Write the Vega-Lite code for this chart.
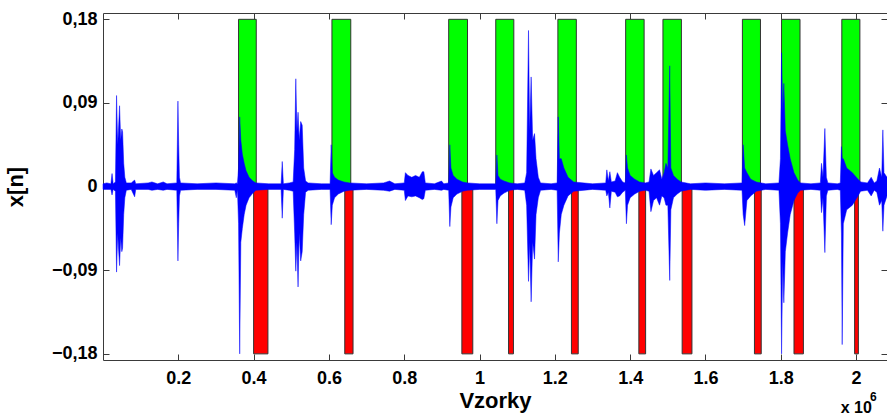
{
  "$schema": "https://vega.github.io/schema/vega-lite/v6.json",
  "width": 784,
  "height": 347,
  "autosize": {"type": "none"},
  "padding": {"left": 103, "top": 13, "right": 0, "bottom": 55},
  "background": "white",
  "config": {
    "view": {"stroke": "#3a3a3a", "strokeWidth": 1},
    "font": "Liberation Sans",
    "axis": {
      "labelFont": "Liberation Sans", "labelFontWeight": "bold", "labelFontSize": 18, "labelColor": "black",
      "titleFont": "Liberation Sans", "titleFontWeight": "bold", "titleFontSize": 22, "titleColor": "black",
      "domain": false, "grid": false, "tickColor": "#3a3a3a", "tickSize": -6
    }
  },
  "datasets": {
    "segments": [
      {"start": 360000, "end": 407000, "val": 0.18, "marker": "start"},
      {"start": 400000, "end": 438000, "val": -0.18, "marker": "end"},
      {"start": 608000, "end": 658000, "val": 0.18, "marker": "start"},
      {"start": 642000, "end": 664000, "val": -0.18, "marker": "end"},
      {"start": 918000, "end": 968000, "val": 0.18, "marker": "start"},
      {"start": 953000, "end": 982000, "val": -0.18, "marker": "end"},
      {"start": 1043000, "end": 1091000, "val": 0.18, "marker": "start"},
      {"start": 1077000, "end": 1090000, "val": -0.18, "marker": "end"},
      {"start": 1208000, "end": 1257000, "val": 0.18, "marker": "start"},
      {"start": 1244000, "end": 1262000, "val": -0.18, "marker": "end"},
      {"start": 1388000, "end": 1437000, "val": 0.18, "marker": "start"},
      {"start": 1423000, "end": 1441000, "val": -0.18, "marker": "end"},
      {"start": 1487000, "end": 1536000, "val": 0.18, "marker": "start"},
      {"start": 1538000, "end": 1564000, "val": -0.18, "marker": "end"},
      {"start": 1698000, "end": 1746000, "val": 0.18, "marker": "start"},
      {"start": 1730000, "end": 1748000, "val": -0.18, "marker": "end"},
      {"start": 1802000, "end": 1851000, "val": 0.18, "marker": "start"},
      {"start": 1835000, "end": 1860000, "val": -0.18, "marker": "end"},
      {"start": 1962000, "end": 2010000, "val": 0.18, "marker": "start"},
      {"start": 1996000, "end": 2006000, "val": -0.18, "marker": "end"}
    ],
    "signal": [
      {"x": 0, "hi": 0.003, "lo": -0.003},
      {"x": 10000, "hi": 0.004, "lo": -0.003},
      {"x": 21000, "hi": 0.003, "lo": -0.003},
      {"x": 24000, "hi": 0.014, "lo": -0.009},
      {"x": 27000, "hi": 0.003, "lo": -0.003},
      {"x": 33000, "hi": 0.005, "lo": -0.005},
      {"x": 36000, "hi": 0.098, "lo": -0.092},
      {"x": 39000, "hi": 0.045, "lo": -0.05},
      {"x": 41000, "hi": 0.06, "lo": -0.065},
      {"x": 44000, "hi": 0.087, "lo": -0.085},
      {"x": 47000, "hi": 0.05, "lo": -0.055},
      {"x": 50000, "hi": 0.062, "lo": -0.07},
      {"x": 52000, "hi": 0.059, "lo": -0.066},
      {"x": 55000, "hi": 0.025, "lo": -0.03},
      {"x": 58000, "hi": 0.01, "lo": -0.012},
      {"x": 62000, "hi": 0.004, "lo": -0.004},
      {"x": 75000, "hi": 0.004, "lo": -0.003},
      {"x": 84000, "hi": 0.007, "lo": -0.011},
      {"x": 87000, "hi": 0.003, "lo": -0.003},
      {"x": 120000, "hi": 0.004, "lo": -0.003},
      {"x": 130000, "hi": 0.005, "lo": -0.004},
      {"x": 145000, "hi": 0.003, "lo": -0.003},
      {"x": 160000, "hi": 0.005, "lo": -0.004},
      {"x": 170000, "hi": 0.003, "lo": -0.003},
      {"x": 196000, "hi": 0.004, "lo": -0.004},
      {"x": 199000, "hi": 0.092, "lo": -0.08},
      {"x": 201000, "hi": 0.045, "lo": -0.04},
      {"x": 203000, "hi": 0.01, "lo": -0.01},
      {"x": 206000, "hi": 0.004, "lo": -0.004},
      {"x": 250000, "hi": 0.003, "lo": -0.003},
      {"x": 300000, "hi": 0.004, "lo": -0.003},
      {"x": 350000, "hi": 0.003, "lo": -0.004},
      {"x": 354000, "hi": 0.004, "lo": -0.012},
      {"x": 357000, "hi": 0.003, "lo": -0.003},
      {"x": 360000, "hi": 0.02, "lo": -0.04},
      {"x": 363000, "hi": 0.075, "lo": -0.18},
      {"x": 366000, "hi": 0.05, "lo": -0.06},
      {"x": 370000, "hi": 0.035, "lo": -0.045},
      {"x": 375000, "hi": 0.025, "lo": -0.03},
      {"x": 380000, "hi": 0.017, "lo": -0.02},
      {"x": 388000, "hi": 0.01, "lo": -0.012},
      {"x": 398000, "hi": 0.006, "lo": -0.007},
      {"x": 406000, "hi": 0.004, "lo": -0.004},
      {"x": 440000, "hi": 0.003, "lo": -0.003},
      {"x": 473000, "hi": 0.003, "lo": -0.003},
      {"x": 476000, "hi": 0.027, "lo": -0.034},
      {"x": 479000, "hi": 0.003, "lo": -0.003},
      {"x": 495000, "hi": 0.004, "lo": -0.004},
      {"x": 505000, "hi": 0.005, "lo": -0.005},
      {"x": 509000, "hi": 0.04, "lo": -0.05},
      {"x": 512000, "hi": 0.116, "lo": -0.091},
      {"x": 515000, "hi": 0.06, "lo": -0.06},
      {"x": 518000, "hi": 0.08, "lo": -0.108},
      {"x": 521000, "hi": 0.05, "lo": -0.05},
      {"x": 525000, "hi": 0.07, "lo": -0.08},
      {"x": 529000, "hi": 0.066, "lo": -0.07},
      {"x": 533000, "hi": 0.02, "lo": -0.03},
      {"x": 538000, "hi": 0.006, "lo": -0.006},
      {"x": 545000, "hi": 0.004, "lo": -0.004},
      {"x": 580000, "hi": 0.003, "lo": -0.003},
      {"x": 603000, "hi": 0.003, "lo": -0.003},
      {"x": 606000, "hi": 0.045, "lo": -0.041},
      {"x": 609000, "hi": 0.015, "lo": -0.02},
      {"x": 615000, "hi": 0.01, "lo": -0.012},
      {"x": 625000, "hi": 0.007, "lo": -0.008},
      {"x": 640000, "hi": 0.005, "lo": -0.005},
      {"x": 655000, "hi": 0.004, "lo": -0.004},
      {"x": 700000, "hi": 0.003, "lo": -0.003},
      {"x": 745000, "hi": 0.004, "lo": -0.004},
      {"x": 761000, "hi": 0.006, "lo": -0.005},
      {"x": 775000, "hi": 0.003, "lo": -0.003},
      {"x": 800000, "hi": 0.004, "lo": -0.004},
      {"x": 803000, "hi": 0.015, "lo": -0.015},
      {"x": 810000, "hi": 0.012, "lo": -0.01},
      {"x": 820000, "hi": 0.01, "lo": -0.011},
      {"x": 830000, "hi": 0.012, "lo": -0.01},
      {"x": 840000, "hi": 0.01, "lo": -0.012},
      {"x": 848000, "hi": 0.016, "lo": -0.014},
      {"x": 852000, "hi": 0.016, "lo": -0.013},
      {"x": 856000, "hi": 0.004, "lo": -0.004},
      {"x": 880000, "hi": 0.003, "lo": -0.003},
      {"x": 899000, "hi": 0.006, "lo": -0.004},
      {"x": 905000, "hi": 0.003, "lo": -0.003},
      {"x": 918000, "hi": 0.004, "lo": -0.004},
      {"x": 921000, "hi": 0.045, "lo": -0.043},
      {"x": 924000, "hi": 0.02, "lo": -0.022},
      {"x": 930000, "hi": 0.012, "lo": -0.012},
      {"x": 940000, "hi": 0.008, "lo": -0.008},
      {"x": 955000, "hi": 0.005, "lo": -0.005},
      {"x": 968000, "hi": 0.004, "lo": -0.004},
      {"x": 1000000, "hi": 0.003, "lo": -0.003},
      {"x": 1043000, "hi": 0.003, "lo": -0.003},
      {"x": 1046000, "hi": 0.034, "lo": -0.04},
      {"x": 1049000, "hi": 0.012, "lo": -0.015},
      {"x": 1055000, "hi": 0.008, "lo": -0.01},
      {"x": 1065000, "hi": 0.006, "lo": -0.007},
      {"x": 1080000, "hi": 0.004, "lo": -0.004},
      {"x": 1100000, "hi": 0.003, "lo": -0.003},
      {"x": 1120000, "hi": 0.004, "lo": -0.004},
      {"x": 1125000, "hi": 0.015, "lo": -0.02},
      {"x": 1130000, "hi": 0.168, "lo": -0.102},
      {"x": 1133000, "hi": 0.06, "lo": -0.06},
      {"x": 1137000, "hi": 0.118, "lo": -0.124},
      {"x": 1141000, "hi": 0.05, "lo": -0.06},
      {"x": 1146000, "hi": 0.057, "lo": -0.078},
      {"x": 1150000, "hi": 0.03, "lo": -0.03},
      {"x": 1156000, "hi": 0.01, "lo": -0.012},
      {"x": 1162000, "hi": 0.004, "lo": -0.004},
      {"x": 1190000, "hi": 0.003, "lo": -0.003},
      {"x": 1206000, "hi": 0.004, "lo": -0.004},
      {"x": 1209000, "hi": 0.075, "lo": -0.081},
      {"x": 1212000, "hi": 0.03, "lo": -0.05},
      {"x": 1217000, "hi": 0.03, "lo": -0.03},
      {"x": 1224000, "hi": 0.02, "lo": -0.02},
      {"x": 1235000, "hi": 0.01, "lo": -0.01},
      {"x": 1250000, "hi": 0.005, "lo": -0.005},
      {"x": 1300000, "hi": 0.003, "lo": -0.003},
      {"x": 1335000, "hi": 0.004, "lo": -0.004},
      {"x": 1338000, "hi": 0.018, "lo": -0.01},
      {"x": 1342000, "hi": 0.006, "lo": -0.006},
      {"x": 1346000, "hi": 0.016, "lo": -0.023},
      {"x": 1350000, "hi": 0.005, "lo": -0.005},
      {"x": 1360000, "hi": 0.006, "lo": -0.006},
      {"x": 1366000, "hi": 0.015, "lo": -0.011},
      {"x": 1372000, "hi": 0.01, "lo": -0.01},
      {"x": 1380000, "hi": 0.005, "lo": -0.006},
      {"x": 1387000, "hi": 0.004, "lo": -0.004},
      {"x": 1390000, "hi": 0.034, "lo": -0.04},
      {"x": 1393000, "hi": 0.02, "lo": -0.02},
      {"x": 1400000, "hi": 0.012, "lo": -0.012},
      {"x": 1412000, "hi": 0.008, "lo": -0.008},
      {"x": 1425000, "hi": 0.005, "lo": -0.005},
      {"x": 1440000, "hi": 0.004, "lo": -0.004},
      {"x": 1450000, "hi": 0.005, "lo": -0.005},
      {"x": 1455000, "hi": 0.019, "lo": -0.027},
      {"x": 1462000, "hi": 0.012, "lo": -0.015},
      {"x": 1470000, "hi": 0.015, "lo": -0.012},
      {"x": 1478000, "hi": 0.018, "lo": -0.02},
      {"x": 1484000, "hi": 0.008, "lo": -0.01},
      {"x": 1490000, "hi": 0.015, "lo": -0.012},
      {"x": 1495000, "hi": 0.025, "lo": -0.02},
      {"x": 1500000, "hi": 0.02, "lo": -0.02},
      {"x": 1505000, "hi": 0.13, "lo": -0.101},
      {"x": 1508000, "hi": 0.02, "lo": -0.025},
      {"x": 1515000, "hi": 0.012, "lo": -0.012},
      {"x": 1525000, "hi": 0.008, "lo": -0.008},
      {"x": 1535000, "hi": 0.005, "lo": -0.005},
      {"x": 1560000, "hi": 0.003, "lo": -0.003},
      {"x": 1600000, "hi": 0.004, "lo": -0.004},
      {"x": 1650000, "hi": 0.003, "lo": -0.003},
      {"x": 1697000, "hi": 0.004, "lo": -0.004},
      {"x": 1700000, "hi": 0.045, "lo": -0.03},
      {"x": 1704000, "hi": 0.02, "lo": -0.042},
      {"x": 1710000, "hi": 0.015, "lo": -0.015},
      {"x": 1720000, "hi": 0.008, "lo": -0.01},
      {"x": 1735000, "hi": 0.005, "lo": -0.005},
      {"x": 1760000, "hi": 0.003, "lo": -0.003},
      {"x": 1795000, "hi": 0.004, "lo": -0.004},
      {"x": 1799000, "hi": 0.03, "lo": -0.04},
      {"x": 1802000, "hi": 0.144, "lo": -0.18},
      {"x": 1805000, "hi": 0.08, "lo": -0.08},
      {"x": 1808000, "hi": 0.111, "lo": -0.125},
      {"x": 1812000, "hi": 0.06, "lo": -0.07},
      {"x": 1818000, "hi": 0.045, "lo": -0.05},
      {"x": 1825000, "hi": 0.03, "lo": -0.03},
      {"x": 1835000, "hi": 0.015, "lo": -0.015},
      {"x": 1845000, "hi": 0.007, "lo": -0.007},
      {"x": 1852000, "hi": 0.004, "lo": -0.004},
      {"x": 1880000, "hi": 0.003, "lo": -0.003},
      {"x": 1905000, "hi": 0.004, "lo": -0.004},
      {"x": 1908000, "hi": 0.025, "lo": -0.028},
      {"x": 1912000, "hi": 0.01, "lo": -0.012},
      {"x": 1917000, "hi": 0.0625, "lo": -0.071},
      {"x": 1921000, "hi": 0.01, "lo": -0.01},
      {"x": 1925000, "hi": 0.004, "lo": -0.004},
      {"x": 1950000, "hi": 0.003, "lo": -0.003},
      {"x": 1958000, "hi": 0.004, "lo": -0.004},
      {"x": 1961000, "hi": 0.043, "lo": -0.05},
      {"x": 1963000, "hi": 0.03, "lo": -0.17},
      {"x": 1966000, "hi": 0.03, "lo": -0.04},
      {"x": 1975000, "hi": 0.02, "lo": -0.025},
      {"x": 1990000, "hi": 0.015, "lo": -0.02},
      {"x": 2005000, "hi": 0.008, "lo": -0.01},
      {"x": 2012000, "hi": 0.005, "lo": -0.005},
      {"x": 2030000, "hi": 0.004, "lo": -0.004},
      {"x": 2040000, "hi": 0.01, "lo": -0.01},
      {"x": 2048000, "hi": 0.004, "lo": -0.004},
      {"x": 2055000, "hi": 0.006, "lo": -0.006},
      {"x": 2062000, "hi": 0.02, "lo": -0.02},
      {"x": 2068000, "hi": 0.01, "lo": -0.015},
      {"x": 2071000, "hi": 0.061, "lo": -0.048},
      {"x": 2074000, "hi": 0.015, "lo": -0.02},
      {"x": 2082000, "hi": 0.01, "lo": -0.01}
    ]
  },
  "layer": [
    {
      "data": {"name": "segments"},
      "mark": {"type": "rect", "stroke": "#333333", "strokeWidth": 1},
      "encoding": {
        "x": {"field": "start", "type": "quantitative",
          "scale": {"domain": [0, 2082000], "nice": false, "zero": false},
          "axis": {"orient": "bottom", "values": [200000, 400000, 600000, 800000, 1000000, 1200000, 1400000, 1600000, 1800000, 2000000],
            "labelExpr": "format(datum.value / 1000000, '~g')", "title": "Vzorky", "labelPadding": 15, "titlePadding": 3}},
        "x2": {"field": "end"},
        "y": {"field": "val", "type": "quantitative",
          "scale": {"domain": [-0.1866, 0.1868], "nice": false, "zero": false},
          "axis": {"orient": "left", "values": [-0.18, -0.09, 0, 0.09, 0.18],
            "labelExpr": "datum.value == 0 ? '0' : replace(format(datum.value, '.2f'), '.', ',')",
            "title": "x[n]", "labelPadding": 12, "titlePadding": 24}},
        "y2": {"datum": 0},
        "color": {"field": "marker", "type": "nominal",
          "scale": {"domain": ["start", "end"], "range": ["#00ff00", "#ff0000"]}, "legend": null}
      }
    },
    {
      "data": {"name": "signal"},
      "mark": {"type": "area", "color": "#0000ff", "stroke": "#0000ff", "strokeWidth": 0.5},
      "encoding": {
        "x": {"field": "x", "type": "quantitative",
          "scale": {"domain": [0, 2082000], "nice": false, "zero": false},
          "axis": {"orient": "top", "values": [200000, 400000, 600000, 800000, 1000000, 1200000, 1400000, 1600000, 1800000, 2000000], "labels": false, "title": null}},
        "y": {"field": "lo", "type": "quantitative",
          "scale": {"domain": [-0.1866, 0.1868], "nice": false, "zero": false},
          "axis": {"orient": "right", "values": [-0.18, -0.09, 0, 0.09, 0.18], "labels": false, "title": null}},
        "y2": {"field": "hi"}
      }
    },
    {
      "data": {"values": [{"label": "x 10"}]},
      "mark": {"type": "text", "font": "Liberation Sans", "fontWeight": "bold", "fontSize": 16, "align": "left", "baseline": "alphabetic", "color": "black"},
      "encoding": {
        "text": {"field": "label"},
        "x": {"datum": 1959000, "type": "quantitative", "scale": {"domain": [0, 2082000], "nice": false, "zero": false}, "axis": null},
        "y": {"datum": -0.2436, "type": "quantitative", "scale": {"domain": [-0.1866, 0.1868], "nice": false, "zero": false}, "axis": null}
      }
    },
    {
      "data": {"values": [{"label": "6"}]},
      "mark": {"type": "text", "font": "Liberation Sans", "fontWeight": "bold", "fontSize": 12, "align": "left", "baseline": "alphabetic", "color": "black"},
      "encoding": {
        "text": {"field": "label"},
        "x": {"datum": 2037000, "type": "quantitative", "scale": {"domain": [0, 2082000], "nice": false, "zero": false}, "axis": null},
        "y": {"datum": -0.231, "type": "quantitative", "scale": {"domain": [-0.1866, 0.1868], "nice": false, "zero": false}, "axis": null}
      }
    }
  ],
  "resolve": {"axis": {"x": "independent", "y": "independent"}}
}
